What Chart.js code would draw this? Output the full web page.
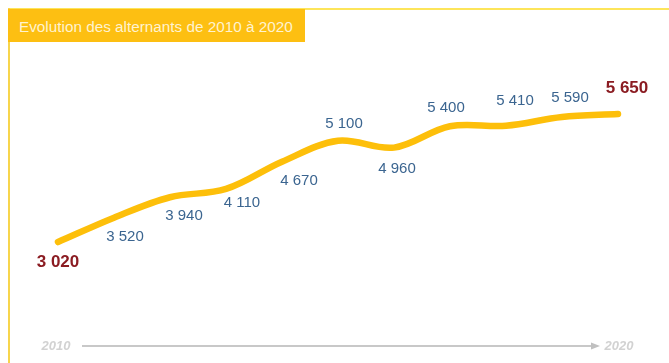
<!DOCTYPE html>
<html>
<head>
<meta charset="utf-8">
<script src="https://cdn.jsdelivr.net/npm/chart.js@4"></script>
<style>
    body { margin: 0; background: #ffffff; }
    #wrap { position: relative; width: 669px; height: 363px; overflow: hidden; }
    #frameTop { position: absolute; left: 8px; top: 8px; width: 661px; height: 2px; background: #fde55a; }
    #frameLeft { position: absolute; left: 8px; top: 8px; width: 2px; height: 355px; background: #f7d54c; }
    #titleBox {
        position: absolute; left: 8px; top: 9px; width: 297px; height: 33px;
        background: #fdbf12; color: #fff3d0;
        font-family: "Liberation Sans", Arial, sans-serif; font-size: 15.3px;
        line-height: 35px; padding-left: 11px; box-sizing: border-box; letter-spacing: 0;
    }
    canvas { position: absolute; left: 0; top: 0; }
</style>
</head>
<body>
<div id="wrap">
    <canvas id="chart" width="669" height="363"></canvas>
    <div id="frameTop"></div>
    <div id="frameLeft"></div>
    <div id="titleBox">Evolution des alternants de 2010 à 2020</div>
</div>
<script>
// donnees
const annees = ['2010', '2011', '2012', '2013', '2014', '2015', '2016', '2017', '2018', '2019', '2020'];
const alternants = [3020, 3520, 3940, 4110, 4670, 5100, 4960, 5400, 5410, 5590, 5650];
const axeLabels = ['2010', '2020'];

// position des etiquettes (dx, dy par rapport au point)
const labelOffsets = [[0, 20], [11, 19], [14, 19], [16, 14], [17, 19], [6, -17], [3, 21], [-4, -18], [9, -25], [8, -19], [9, -26]];

function formatNombre(v) {
    return String(v).replace(/\B(?=(\d{3})+(?!\d))/g, ' ');
}

const etiquettesPlugin = {
    id: 'etiquettes',
    afterDatasetsDraw: function (chart) {
        let ctx = chart.ctx;
        let meta = chart.getDatasetMeta(0);
        let last = meta.data.length - 1;
        ctx.save();
        ctx.textAlign = 'center';
        ctx.textBaseline = 'middle';
        meta.data.forEach(function (pt, i) {
            let off = labelOffsets[i];
            if (i === 0 || i === last) {
                ctx.font = 'bold 17px "Liberation Sans", Arial, sans-serif';
                ctx.fillStyle = '#8b1c22';
            } else {
                ctx.font = '15px "Liberation Sans", Arial, sans-serif';
                ctx.fillStyle = '#3b6590';
            }
            ctx.fillText(formatNombre(alternants[i]), pt.x + off[0], pt.y + off[1]);
        });
        ctx.restore();
    }
};

const axePlugin = {
    id: 'axeFleche',
    afterDraw: function (chart) {
        let ctx = chart.ctx;
        let x = chart.scales.x;
        let x0 = x.getPixelForValue(0);
        let x1 = x.getPixelForValue(annees.length - 1);
        let y = 346;
        ctx.save();
        ctx.font = 'italic bold 13px "Liberation Sans", Arial, sans-serif';
        ctx.fillStyle = '#d2d2d2';
        ctx.textAlign = 'center';
        ctx.textBaseline = 'middle';
        ctx.fillText(axeLabels[0], x0 - 2, y);
        ctx.fillText(axeLabels[1], x1 + 1, y);
        ctx.strokeStyle = '#c8c8c8';
        ctx.lineWidth = 2;
        ctx.beginPath();
        ctx.moveTo(x0 + 24, y);
        ctx.lineTo(x1 - 26, y);
        ctx.stroke();
        ctx.fillStyle = '#c0c0c0';
        ctx.beginPath();
        ctx.moveTo(x1 - 18, y);
        ctx.lineTo(x1 - 27, y - 3.5);
        ctx.lineTo(x1 - 27, y + 3.5);
        ctx.closePath();
        ctx.fill();
        ctx.restore();
    }
};

new Chart(document.getElementById("chart"), {
    type: 'line',
    data: {
        labels: annees,
        datasets: [
        {
            label: 'Alternants',
            data: alternants,
            borderColor: '#fdbf0a',
            borderWidth: 6.5,
            borderCapStyle: 'round',
            pointRadius: 0,
            tension: 0.35,
            fill: false,
            clip: false
        }
        ]
    },
    options: {
        responsive: false,
        animation: false,
        layout: {
            padding: { top: 60, bottom: 33, left: 58, right: 51 }
        },
        plugins: {
            legend: { display: false },
            tooltip: { enabled: false }
        },
        scales: {
            x: { display: false },
            y: { display: false, min: 1212, max: 6760 }
        }
    },
    plugins: [etiquettesPlugin, axePlugin]
});
</script>
</body>
</html>
